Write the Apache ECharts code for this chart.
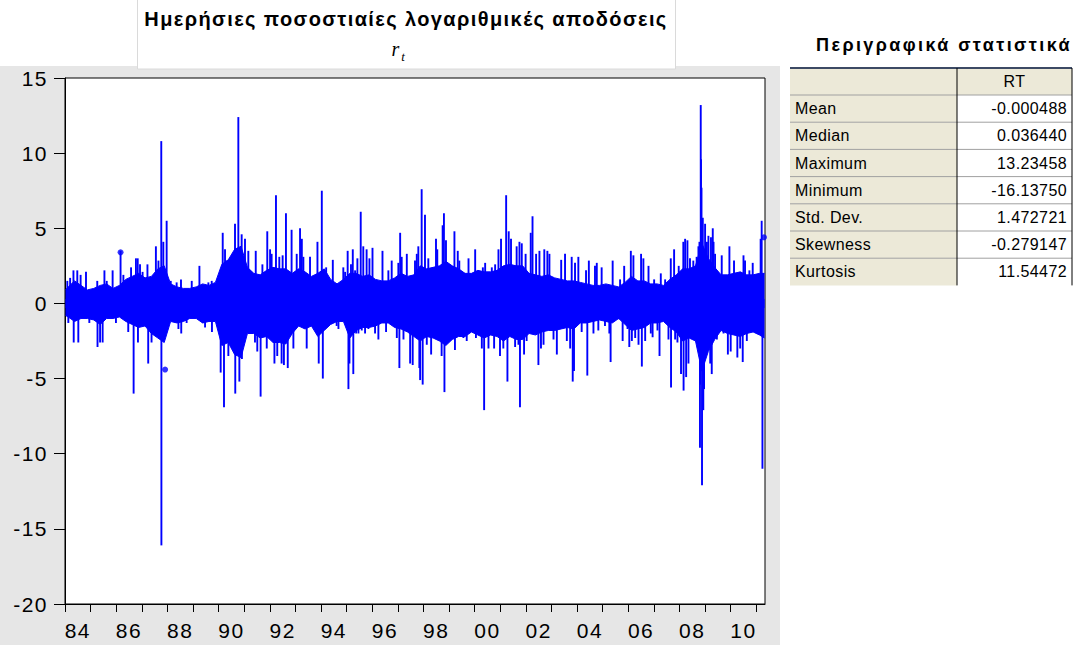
<!DOCTYPE html>
<html><head><meta charset="utf-8">
<script src="https://cdn.jsdelivr.net/npm/echarts@6.0.0/dist/echarts.min.js"></script>
<style>
html,body{margin:0;padding:0;background:#fff}
#c{width:1084px;height:645px}
#c text[style*="21px"]{letter-spacing:1.5px}
#c text[style*="20px"]{letter-spacing:1.4px}
#c text[style*="18px"]{letter-spacing:2.4px}
#c text[style*="16px"]{letter-spacing:0.4px}
</style>
</head><body><div id="c"></div><script>
// ---- data ----
const chartTitle = 'Ημερήσιες ποσοστιαίες λογαριθμικές αποδόσεις';
const tableTitle = 'Περιγραφικά στατιστικά';
const tickYears = [1984,1985,1986,1987,1988,1989,1990,1991,1992,1993,1994,1995,1996,1997,1998,1999,2000,2001,2002,2003,2004,2005,2006,2007,2008,2009,2010,2011];
const labelYears = [1984,1986,1988,1990,1992,1994,1996,1998,2000,2002,2004,2006,2008,2010];
// dense core envelope (quarterly)
const coreYears = [1984.02,1984.125,1984.375,1984.625,1984.875,1985.125,1985.375,1985.625,1985.875,1986.125,1986.375,1986.625,1986.875,1987.125,1987.375,1987.625,1987.875,1988.125,1988.375,1988.625,1988.875,1989.125,1989.375,1989.625,1989.875,1990.125,1990.375,1990.625,1990.875,1991.125,1991.375,1991.625,1991.875,1992.125,1992.375,1992.625,1992.875,1993.125,1993.375,1993.625,1993.875,1994.125,1994.375,1994.625,1994.875,1995.125,1995.375,1995.625,1995.875,1996.125,1996.375,1996.625,1996.875,1997.125,1997.375,1997.625,1997.875,1998.125,1998.375,1998.625,1998.875,1999.125,1999.375,1999.625,1999.875,2000.125,2000.375,2000.625,2000.875,2001.125,2001.375,2001.625,2001.875,2002.125,2002.375,2002.625,2002.875,2003.125,2003.375,2003.625,2003.875,2004.125,2004.375,2004.625,2004.875,2005.125,2005.375,2005.625,2005.875,2006.125,2006.375,2006.625,2006.875,2007.125,2007.375,2007.625,2007.875,2008.125,2008.375,2008.625,2008.875,2009.125,2009.375,2009.625,2009.875,2010.125,2010.375,2010.625,2010.875,2011.125,2011.32];
const coreHi = [0.9,1.1,1.5,1.2,0.9,1.0,1.2,1.3,1.0,1.2,1.6,1.8,2.0,1.7,1.8,2.3,2.5,1.3,1.1,1.0,1.0,1.1,1.3,1.2,1.4,2.6,2.9,3.6,3.8,2.4,2.0,1.9,2.2,2.4,2.3,2.3,2.0,2.3,2.1,1.8,2.0,2.3,1.6,1.3,1.6,2.0,2.0,1.8,1.9,1.6,1.5,1.5,1.7,2.0,1.8,1.9,2.5,2.3,2.4,2.5,2.8,2.5,2.3,2.0,2.0,2.2,2.1,2.1,2.2,2.5,2.6,2.5,2.5,2.0,1.9,1.8,1.9,1.7,1.6,1.5,1.5,1.4,1.3,1.2,1.2,1.3,1.2,1.1,1.4,1.8,1.5,1.5,1.3,1.3,1.2,1.6,1.9,2.3,2.3,2.5,4.0,3.0,2.4,1.9,1.9,2.0,2.1,1.9,1.9,2.0,2.0];
const coreLo = [-0.8,-0.9,-1.2,-1.0,-1.0,-1.1,-1.4,-1.0,-1.0,-0.9,-1.2,-1.4,-1.6,-1.5,-2.0,-2.3,-2.6,-1.2,-1.3,-1.2,-1.0,-1.0,-1.3,-1.2,-1.2,-2.8,-2.6,-3.4,-3.6,-2.0,-2.0,-2.3,-2.2,-2.6,-2.6,-2.7,-2.0,-1.5,-1.7,-1.5,-2.2,-1.8,-1.4,-1.2,-1.2,-2.3,-1.8,-1.6,-1.6,-1.5,-1.3,-1.3,-1.6,-1.7,-1.9,-2.2,-2.5,-2.2,-2.3,-2.5,-2.8,-2.4,-2.2,-2.2,-1.9,-2.1,-2.3,-2.1,-2.2,-2.5,-2.2,-2.4,-2.4,-2.0,-2.1,-1.9,-1.8,-1.8,-1.7,-1.6,-1.7,-1.3,-1.3,-1.2,-1.1,-1.2,-1.3,-1.0,-1.4,-1.8,-1.7,-1.6,-1.3,-1.3,-1.2,-1.6,-1.9,-2.5,-2.3,-2.5,-4.5,-3.2,-2.4,-1.8,-2.0,-2.1,-2.2,-2.0,-1.9,-2.1,-2.3];
// individual daily returns standing out of the core [year, %]
const spikes = [
[1984.09,1.5],[1984.13,-1.3],[1984.20,1.7],[1984.33,2.2],[1984.34,-2.6],[1984.48,2.2],[1984.52,-2.6],[1984.61,1.9],[1984.82,2.1],[1984.95,-1.3],
[1985.26,1.5],[1985.27,-2.9],[1985.37,-2.6],[1985.47,-2.6],[1985.54,2.2],[1985.63,1.5],[1985.86,2.2],[1985.99,-1.3],
[1986.17,3.5],[1986.28,1.9],[1986.47,-1.9],[1986.58,2.4],[1986.68,-6.0],[1986.77,3.0],[1986.84,3.0],[1986.85,-2.6],[1986.93,2.6],
[1987.03,2.1],[1987.22,2.6],[1987.25,-4.0],[1987.38,-2.6],[1987.55,3.8],[1987.65,2.85],[1987.76,10.8],[1987.765,-16.1],[1987.84,4.1],[1987.97,5.5],
[1988.13,1.5],[1988.36,1.4],[1988.43,-1.7],[1988.53,1.6],[1988.54,-2.0],[1988.75,-1.3],[1988.95,1.5],
[1989.25,2.5],[1989.40,-1.3],[1989.47,-1.6],[1989.60,1.4],[1989.73,1.5],[1989.74,-1.9],
[1990.08,-4.6],[1990.16,4.7],[1990.21,-6.9],[1990.25,3.6],[1990.31,2.85],[1990.38,-3.5],[1990.45,2.2],[1990.51,-2.0],[1990.64,5.3],[1990.65,-6.0],[1990.77,12.4],[1990.81,-5.2],[1990.90,4.6],[1990.91,-3.7],
[1991.03,4.3],[1991.16,3.5],[1991.42,-2.6],[1991.45,3.5],[1991.51,-3.2],[1991.64,-6.2],[1991.71,2.6],[1991.88,-3.0],[1991.90,4.8],
[1992.01,3.6],[1992.07,3.3],[1992.18,-4.0],[1992.24,7.2],[1992.29,-3.5],[1992.37,3.1],[1992.46,-4.0],[1992.50,3.2],[1992.55,-4.1],[1992.63,6.0],[1992.70,-4.3],[1992.85,4.9],[1992.92,-3.0],
[1993.05,3.3],[1993.18,5.0],[1993.25,4.3],[1993.31,3.1],[1993.44,-3.0],[1993.57,3.1],[1993.86,4.1],[1993.91,-4.0],
[1994.03,7.5],[1994.07,-5.0],[1994.20,2.4],[1994.46,2.9],[1994.61,-1.5],[1994.68,-1.7],[1994.87,2.4],[1994.94,2.1],
[1995.04,3.5],[1995.07,-5.7],[1995.11,-4.0],[1995.17,2.6],[1995.24,3.6],[1995.26,-4.7],[1995.33,2.2],[1995.37,-2.0],[1995.42,3.0],[1995.46,-2.0],[1995.55,6.1],[1995.59,-1.8],[1995.65,3.8],[1995.72,-2.0],[1995.78,3.6],[1995.85,-1.7],[1995.89,3.0],
[1996.01,3.7],[1996.11,-2.0],[1996.24,-2.4],[1996.40,3.5],[1996.54,-1.9],[1996.63,2.2],[1996.76,2.85],[1996.96,-2.3],
[1997.02,2.7],[1997.06,-4.3],[1997.09,4.7],[1997.15,3.1],[1997.22,-2.4],[1997.35,3.3],[1997.48,-4.0],[1997.58,-4.1],[1997.67,2.85],[1997.74,3.3],[1997.80,3.8],[1997.84,-4.3],[1997.87,-5.1],[1997.93,7.6],[1997.97,-5.4],
[1998.06,5.9],[1998.13,-2.75],[1998.19,3.0],[1998.30,-3.4],[1998.43,-2.3],[1998.49,4.3],[1998.54,3.6],[1998.58,-2.0],[1998.71,-3.5],[1998.75,5.2],[1998.80,6.0],[1998.82,-5.9],[1998.88,4.2],
[1999.04,-2.5],[1999.10,2.4],[1999.21,4.8],[1999.23,-3.1],[1999.34,3.5],[1999.40,2.85],[1999.56,-2.3],[1999.69,-2.5],[1999.76,3.0],[1999.89,-1.8],
[2000.02,3.6],[2000.05,-2.3],[2000.21,1.9],[2000.28,-3.0],[2000.32,2.4],[2000.37,-7.1],[2000.41,2.7],[2000.54,-3.0],[2000.67,2.4],[2000.76,-3.0],[2000.80,2.6],[2000.86,-2.0],[2000.93,3.6],[2000.99,-3.5],
[2001.03,4.3],[2001.12,-3.0],[2001.23,7.2],[2001.28,-5.2],[2001.33,4.8],[2001.42,4.3],[2001.58,-2.9],[2001.64,3.8],[2001.71,-2.75],[2001.75,4.1],[2001.77,-6.9],[2001.84,4.0],[2001.93,-3.4],[2001.99,3.3],
[2002.03,-2.5],[2002.19,4.7],[2002.26,5.8],[2002.30,-2.0],[2002.40,3.3],[2002.49,-4.1],[2002.53,3.5],[2002.59,-3.0],[2002.69,-2.75],[2002.72,3.6],[2002.84,3.5],[2002.92,3.3],
[2003.08,-2.4],[2003.21,-3.4],[2003.38,2.9],[2003.53,3.3],[2003.60,-2.5],[2003.73,-3.0],[2003.79,3.1],[2003.83,-5.2],[2003.88,-4.5],[2003.92,2.7],
[2004.05,3.1],[2004.18,-1.9],[2004.35,2.2],[2004.40,-4.8],[2004.46,2.85],[2004.64,-2.0],[2004.70,2.5],[2004.77,2.7],[2004.83,-1.8],[2004.96,2.4],
[2005.09,-1.5],[2005.26,-2.0],[2005.31,-3.9],[2005.39,2.85],[2005.61,-1.05],[2005.68,1.6],[2005.78,-2.5],[2005.84,2.5],[2005.97,-1.7],
[2006.04,-2.9],[2006.10,3.5],[2006.14,-2.5],[2006.20,3.2],[2006.27,-2.3],[2006.40,-2.75],[2006.50,3.3],[2006.53,-4.2],[2006.59,3.0],[2006.66,-2.5],[2006.79,2.5],[2006.88,-2.0],[2006.95,-2.25],
[2007.01,1.6],[2007.14,-1.8],[2007.22,-3.5],[2007.27,2.0],[2007.44,1.6],[2007.57,-2.4],[2007.66,3.0],[2007.67,-5.6],[2007.79,3.6],[2007.83,-2.4],[2007.92,-2.6],[2007.97,2.5],
[2008.06,-4.7],[2008.15,4.1],[2008.16,-5.8],[2008.22,4.3],[2008.26,-4.9],[2008.31,4.2],[2008.35,-4.0],[2008.41,3.0],[2008.48,-1.9],[2008.54,2.85],[2008.67,3.1],[2008.74,3.8],[2008.78,4.1],[2008.80,-9.6],[2008.81,-5.4],[2008.83,13.2],[2008.84,9.6],[2008.86,7.7],[2008.88,-12.1],[2008.91,5.7],[2008.93,-7.1],[2008.96,-5.7],
[2009.00,5.3],[2009.07,4.1],[2009.13,4.5],[2009.17,-2.0],[2009.20,-4.0],[2009.23,4.4],[2009.26,-4.7],[2009.30,5.0],[2009.33,4.1],[2009.39,3.3],[2009.46,-2.4],[2009.65,3.2],[2009.72,-2.0],[2009.89,-3.4],[2009.95,3.8],
[2010.00,-3.2],[2010.13,2.85],[2010.26,-3.6],[2010.37,-3.0],[2010.47,-3.9],[2010.50,3.2],[2010.56,2.85],[2010.63,-2.5],[2010.73,2.2],[2010.86,2.7],
[2011.17,4.3],[2011.21,5.5],[2011.24,-11.0]
];
const dots = [[1986.17,3.4],[1987.91,-4.4],[2011.30,4.4]];
const statNames = ['Mean','Median','Maximum','Minimum','Std. Dev.','Skewness','Kurtosis'];
const statValues = ['-0.000488','0.036440','13.23458','-16.13750','1.472721','-0.279147','11.54472'];
const statHeader = 'RT';

// ---- build ----
const BLUE = '#0000ff';
const FONT = 'Liberation Sans';
const chart = echarts.init(document.getElementById('c'), null, {renderer:'svg'});

const T = {left:790, split:957, right:1072, top:68, headH:27, rowH:27.2};
const tableEls = [];
tableEls.push({type:'rect', shape:{x:T.left,y:T.top,width:T.right-T.left,height:T.headH}, style:{fill:'#ece9d8'}});
statNames.forEach((n,i)=>{
  const y = T.top + T.headH + i*T.rowH;
  tableEls.push({type:'rect', shape:{x:T.left,y:y,width:T.split-T.left,height:T.rowH}, style:{fill:'#ece9d8'}});
  tableEls.push({type:'rect', shape:{x:T.split,y:y,width:T.right-T.split,height:T.rowH}, style:{fill:'#fff'}});
  tableEls.push({type:'line', shape:{x1:T.left,y1:y,x2:T.right,y2:y}, style:{stroke:'#a0a0a0',lineWidth:1}});
  tableEls.push({type:'text', x:T.left+5, y:y+T.rowH/2, style:{text:n, font:'16px "'+FONT+'"', fill:'#000', textVerticalAlign:'middle'}});
  tableEls.push({type:'text', x:T.right-5, y:y+T.rowH/2, style:{text:statValues[i], font:'16px "'+FONT+'"', fill:'#000', textAlign:'right', textVerticalAlign:'middle'}});
});
const tBottom = T.top + T.headH + statNames.length*T.rowH;
tableEls.push({type:'text', x:(T.split+T.right)/2, y:T.top+T.headH/2, style:{text:statHeader, font:'16px "'+FONT+'"', fill:'#000', textAlign:'center', textVerticalAlign:'middle'}});
tableEls.push({type:'line', shape:{x1:T.left,y1:T.top,x2:T.right,y2:T.top}, style:{stroke:'#3c4a64',lineWidth:2}});
tableEls.push({type:'line', shape:{x1:T.split,y1:T.top,x2:T.split,y2:tBottom}, style:{stroke:'#000',lineWidth:1}});
tableEls.push({type:'line', shape:{x1:T.right,y1:T.top,x2:T.right,y2:tBottom}, style:{stroke:'#000',lineWidth:1}});
tableEls.push({type:'text', x:944, y:45, style:{text:tableTitle, font:'bold 18px "'+FONT+'"', fill:'#000', textAlign:'center', textVerticalAlign:'middle'}});

chart.setOption({
  animation:false,
  backgroundColor:'#fff',
  graphic:[
    {type:'rect', z:-100, silent:true, shape:{x:0,y:66,width:780,height:579}, style:{fill:'#e6e6e6'}},
    {type:'rect', z:-99, silent:true, shape:{x:137.5,y:-1,width:538,height:70}, style:{fill:'#fff', stroke:'#dadada', lineWidth:1}},
    {type:'text', x:406, y:19, style:{text:chartTitle, font:'bold 20px "'+FONT+'"', fill:'#000', textAlign:'center', textVerticalAlign:'middle'}},
    {type:'text', x:396, y:49, style:{text:'r', font:'italic 20px "Liberation Serif"', fill:'#000', textAlign:'center', textVerticalAlign:'middle'}},
    {type:'text', x:403, y:56, style:{text:'t', font:'italic 13px "Liberation Serif"', fill:'#000', textAlign:'center', textVerticalAlign:'middle'}},
    ...tableEls
  ],
  grid:{left:65, right:319, top:78, bottom:41, show:true, backgroundColor:'#fff', borderColor:'#000', borderWidth:1},
  xAxis:{type:'value', min:1984, max:2011.34,
    axisLine:{show:true, onZero:false, lineStyle:{color:'#000'}},
    splitLine:{show:false},
    axisTick:{show:true, customValues:tickYears, length:8, lineStyle:{color:'#000'}},
    axisLabel:{customValues:labelYears.map(y=>y+0.5), formatter:v=>String(Math.floor(v)%100).padStart(2,'0'), fontSize:21, fontFamily:FONT, color:'#000', margin:16}
  },
  yAxis:{type:'value', min:-20, max:15, interval:5,
    axisLine:{show:true, lineStyle:{color:'#000'}},
    splitLine:{show:false},
    axisTick:{show:true, length:11, lineStyle:{color:'#000'}},
    axisLabel:{fontSize:21, fontFamily:FONT, color:'#000', margin:17}
  },
  series:[
    {type:'line', silent:true, data:coreYears.map((y,i)=>[y,coreHi[i]]), showSymbol:false, lineStyle:{color:BLUE,width:1}, areaStyle:{color:BLUE,opacity:1,origin:-0.3}},
    {type:'line', silent:true, data:coreYears.map((y,i)=>[y,coreLo[i]]), showSymbol:false, lineStyle:{color:BLUE,width:1}, areaStyle:{color:BLUE,opacity:1,origin:0.3}},
    {type:'bar', silent:true, data:spikes, barWidth:1.9, itemStyle:{color:BLUE}},
    {type:'scatter', silent:true, data:dots, symbolSize:6, itemStyle:{color:BLUE}}
  ]
});
</script></body></html>
